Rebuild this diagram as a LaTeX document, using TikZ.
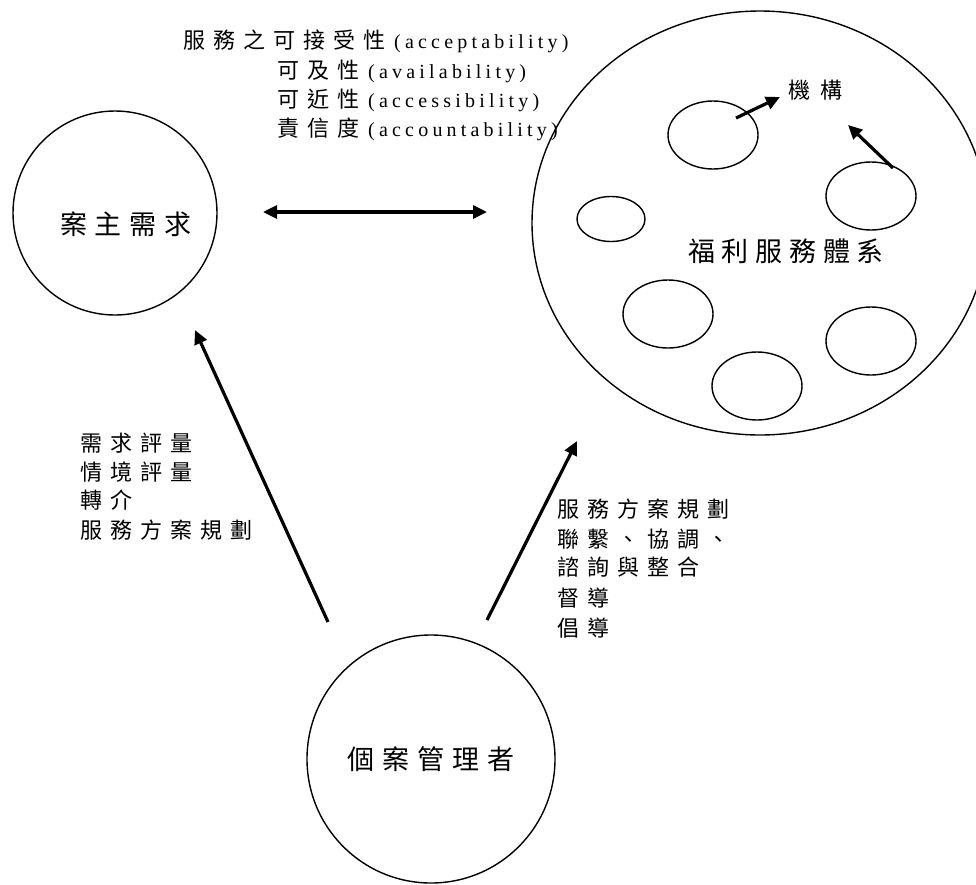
\documentclass[tikz,border=0pt]{standalone}
\usepackage{fontspec}
\setmainfont{Liberation Serif}
\newfontfamily\cjk{Noto Sans CJK TC}
\usetikzlibrary{arrows.meta,shapes.geometric}

% letter-spaced text: \lsp{gap}{characters}
\newcommand\lsp[2]{\def\lspgap{#1}\lspfirst#2\relax}
\def\lspfirst#1{\ifx#1\relax\else#1\expandafter\lsprest\fi}
\def\lsprest#1{\ifx#1\relax\else\hskip\lspgap\relax#1\expandafter\lsprest\fi}
% CJK words followed by a spaced Latin term
\newcommand\mixline[2]{{\lsp{8pt}{#1}}\hskip9pt{\rmfamily\fontsize{20}{24}\selectfont\lsp{4.2pt}{#2}}}

\tikzset{
  ring/.style={circle, draw, line width=1.4pt, inner sep=0pt},
  cell/.style={ellipse, draw, line width=1.4pt, inner sep=0pt},
  flow/.style={line width=3.2pt, -{Triangle[length=14pt,width=13pt]}},
  twoway/.style={line width=3.2pt, {Triangle[length=14pt,width=13pt]}-{Triangle[length=14pt,width=13pt]}},
  txt/.style={inner sep=0pt, anchor=base west, font=\cjk\fontsize{22}{26}\selectfont},
  lbl/.style={inner sep=0pt, font=\cjk\fontsize{27}{31}\selectfont},
}

\begin{document}
\begin{tikzpicture}[x=1pt,y=-1pt]
\useasboundingbox (0,0) rectangle (976,884);

% the three main actors
\node[ring, minimum size=204pt] (client) at (115,213) {};
\node[lbl] (clientlbl) at (126,224) {\lsp{8pt}{案主需求}};
\node[ring, minimum size=248pt, font=\cjk\fontsize{27}{31}\selectfont] (manager) at (431,759) {\lsp{8pt}{個案管理者}};
\node[cell, minimum width=456pt, minimum height=424pt] (system) at (760,223) {};
\node[lbl] (syslbl) at (786,251) {\lsp{6.7pt}{福利服務體系}};

% agencies inside the welfare system
\node[cell, minimum width=90pt, minimum height=68pt] (ag1) at (713,135) {};
\node[cell, minimum width=90pt, minimum height=68pt] (ag2) at (871,196) {};
\node[cell, minimum width=68pt, minimum height=45pt] (ag3) at (611,219) {};
\node[cell, minimum width=90pt, minimum height=68pt] (ag4) at (668,314) {};
\node[cell, minimum width=90pt, minimum height=68pt] (ag5) at (871,341) {};
\node[cell, minimum width=90pt, minimum height=68pt] (ag6) at (757,386) {};
\node[txt, anchor=center] (inst) at (815,90) {\lsp{10pt}{機構}};

\coordinate (ag1out) at (736,118);
\coordinate (ag1tip) at (780,97);
\coordinate (ag2out) at (893,168);
\coordinate (ag2tip) at (848,125);
\draw[flow] (ag1out) -- (ag1tip);
\draw[flow] (ag2out) -- (ag2tip);

% connectors between the actors
\coordinate (linkL) at (263,212);
\coordinate (linkR) at (487,212);
\draw[twoway] (linkL) -- (linkR);

\coordinate (mgrL) at (328,622);
\coordinate (clientIn) at (195,330);
\draw[flow] (mgrL) -- (clientIn);

\coordinate (mgrR) at (487,620);
\coordinate (sysIn) at (577,441);
\draw[flow] (mgrR) -- (sysIn);

% service qualities
\node[txt] (q1) at (183,48) {\mixline{服務之可接受性}{(acceptability)}};
\node[txt] (q2) at (277,78) {\mixline{可及性}{(availability)}};
\node[txt] (q3) at (277,107) {\mixline{可近性}{(accessibility)}};
\node[txt] (q4) at (277,136) {\mixline{責信度}{(accountability)}};

% tasks towards the client
\node[txt] (l1) at (80,451) {\lsp{8pt}{需求評量}};
\node[txt] (l2) at (80,480) {\lsp{8pt}{情境評量}};
\node[txt] (l3) at (80,508) {\lsp{8pt}{轉介}};
\node[txt] (l4) at (80,538) {\lsp{8pt}{服務方案規劃}};

% tasks towards the welfare system
\node[txt] (r1) at (557,517) {\lsp{8pt}{服務方案規劃}};
\node[txt] (r2) at (557,547) {\lsp{8pt}{聯繫、協調、}};
\node[txt] (r3) at (557,575) {\lsp{8pt}{諮詢與整合}};
\node[txt] (r4) at (557,606) {\lsp{8pt}{督導}};
\node[txt] (r5) at (557,636) {\lsp{8pt}{倡導}};
\end{tikzpicture}
\end{document}
